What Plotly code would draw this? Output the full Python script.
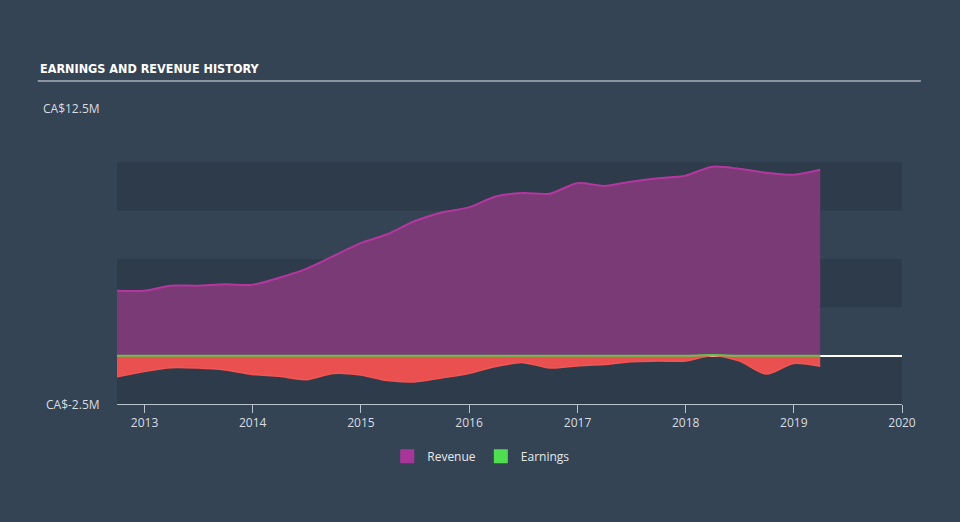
import plotly.graph_objs as go

# quarterly figures, CA$ millions
dates = ['2012-09-30', '2012-12-31', '2013-03-31', '2013-06-30', '2013-09-30', '2013-12-31',
         '2014-03-31', '2014-06-30', '2014-09-30', '2014-12-31', '2015-03-31', '2015-06-30',
         '2015-09-30', '2015-12-31', '2016-03-31', '2016-06-30', '2016-09-30', '2016-12-31',
         '2017-03-31', '2017-06-30', '2017-09-30', '2017-12-31', '2018-03-31', '2018-06-30',
         '2018-09-30', '2018-12-31', '2019-03-31']
revenue = [3.36, 3.36, 3.62, 3.62, 3.69, 3.67, 4.03, 4.49, 5.15, 5.82, 6.28, 6.95, 7.41, 7.67,
           8.23, 8.41, 8.38, 8.92, 8.78, 9.0, 9.18, 9.31, 9.77, 9.67, 9.46, 9.36, 9.62]
earnings = [-1.09, -0.82, -0.62, -0.64, -0.74, -0.97, -1.07, -1.24, -0.92, -1.0, -1.29, -1.36,
            -1.15, -0.92, -0.56, -0.36, -0.64, -0.53, -0.46, -0.31, -0.28, -0.27, 0.03, -0.27,
            -0.95, -0.40, -0.55]

y_labels = ['CA$12.5M', 'CA$-2.5M']
y_min, y_max = -2.5, 12.5

bg = '#344454'
band = '#2e3b4b'

earn_neg = [min(v, 0) for v in earnings]
earn_pos = [max(v, 0) for v in earnings]

fig = go.Figure()

fig.add_trace(go.Scatter(x=dates, y=revenue, mode='lines', fill='tozeroy',
                         line=dict(color='#b4379f', width=2, shape='spline', smoothing=0.8),
                         fillcolor='rgba(125,58,120,0.97)', showlegend=False, hoverinfo='skip'))
fig.add_trace(go.Scatter(x=dates, y=earn_neg, mode='lines', fill='tozeroy',
                         line=dict(color='#f25552', width=1.5, shape='spline', smoothing=0.8),
                         fillcolor='#ea5050', showlegend=False, hoverinfo='skip'))
fig.add_trace(go.Scatter(x=dates, y=earn_pos, mode='lines', fill='tozeroy',
                         line=dict(color='#5cc94c', width=2, shape='spline', smoothing=0.8),
                         fillcolor='#5cc94c', showlegend=False, hoverinfo='skip'))

# legend swatches
fig.add_trace(go.Scatter(x=[None], y=[None], mode='markers', name='Revenue',
                         marker=dict(symbol='square', size=14, color='#a8369a')))
fig.add_trace(go.Scatter(x=[None], y=[None], mode='markers', name='Earnings',
                         marker=dict(symbol='square', size=14, color='#4fde4f')))

# alternating background bands
for lo in [7.5, 2.5, -2.5]:
    fig.add_shape(type='rect', xref='paper', yref='y', x0=0, x1=1, y0=lo, y1=lo + 2.5,
                  fillcolor=band, line_width=0, layer='below')

# title rule
fig.add_shape(type='line', xref='paper', yref='paper', x0=-0.101, x1=1.024, y0=1.114, y1=1.114,
              line=dict(color='#a9b0b8', width=1.5))

fig.add_annotation(text='<b>EARNINGS AND REVENUE HISTORY</b>', xref='paper', yref='paper',
                   x=-0.101, y=1.158, xanchor='left', yanchor='middle', showarrow=False,
                   font=dict(family='DejaVu Sans Condensed', size=12.5, color='#ffffff'))

fig.add_annotation(text=y_labels[0], xref='paper', yref='y', x=-0.019, y=y_max,
                   xanchor='right', yanchor='middle', yshift=6, showarrow=False,
                   font=dict(family='Open Sans', size=12, color='#d8dde2'))
fig.add_annotation(text=y_labels[1], xref='paper', yref='y', x=-0.019, y=y_min,
                   xanchor='right', yanchor='middle', showarrow=False,
                   font=dict(family='Open Sans', size=12, color='#d8dde2'))

fig.update_layout(
    width=960, height=522,
    margin=dict(l=117, r=58, t=114, b=118),
    paper_bgcolor=bg, plot_bgcolor=bg,
    font=dict(family='Open Sans', size=12, color='#d8dde2'),
    showlegend=True,
    legend=dict(orientation='h', x=0.464, y=-0.13, xanchor='center', yanchor='top',
                font=dict(size=12, color='#e6e9ec'), itemwidth=30),
    xaxis=dict(type='date', range=['2012-09-30', '2020-01-01'], showgrid=False,
               showline=True, linecolor='#b8c2cc', linewidth=1,
               ticks='outside', ticklen=8, tickcolor='#b8c2cc',
               tickvals=['2013-01-01', '2014-01-01', '2015-01-01', '2016-01-01',
                         '2017-01-01', '2018-01-01', '2019-01-01', '2020-01-01'],
               ticktext=['2013', '2014', '2015', '2016', '2017', '2018', '2019', '2020'],
               tickfont=dict(size=12, color='#d8dde2'), zeroline=False),
    yaxis=dict(range=[y_min, y_max], showgrid=False, showticklabels=False,
               zeroline=True, zerolinecolor='#ffffff', zerolinewidth=1.5),
)

fig.write_html('out.html', config={'displayModeBar': False},
               post_script="document.body.style.margin='0';")
